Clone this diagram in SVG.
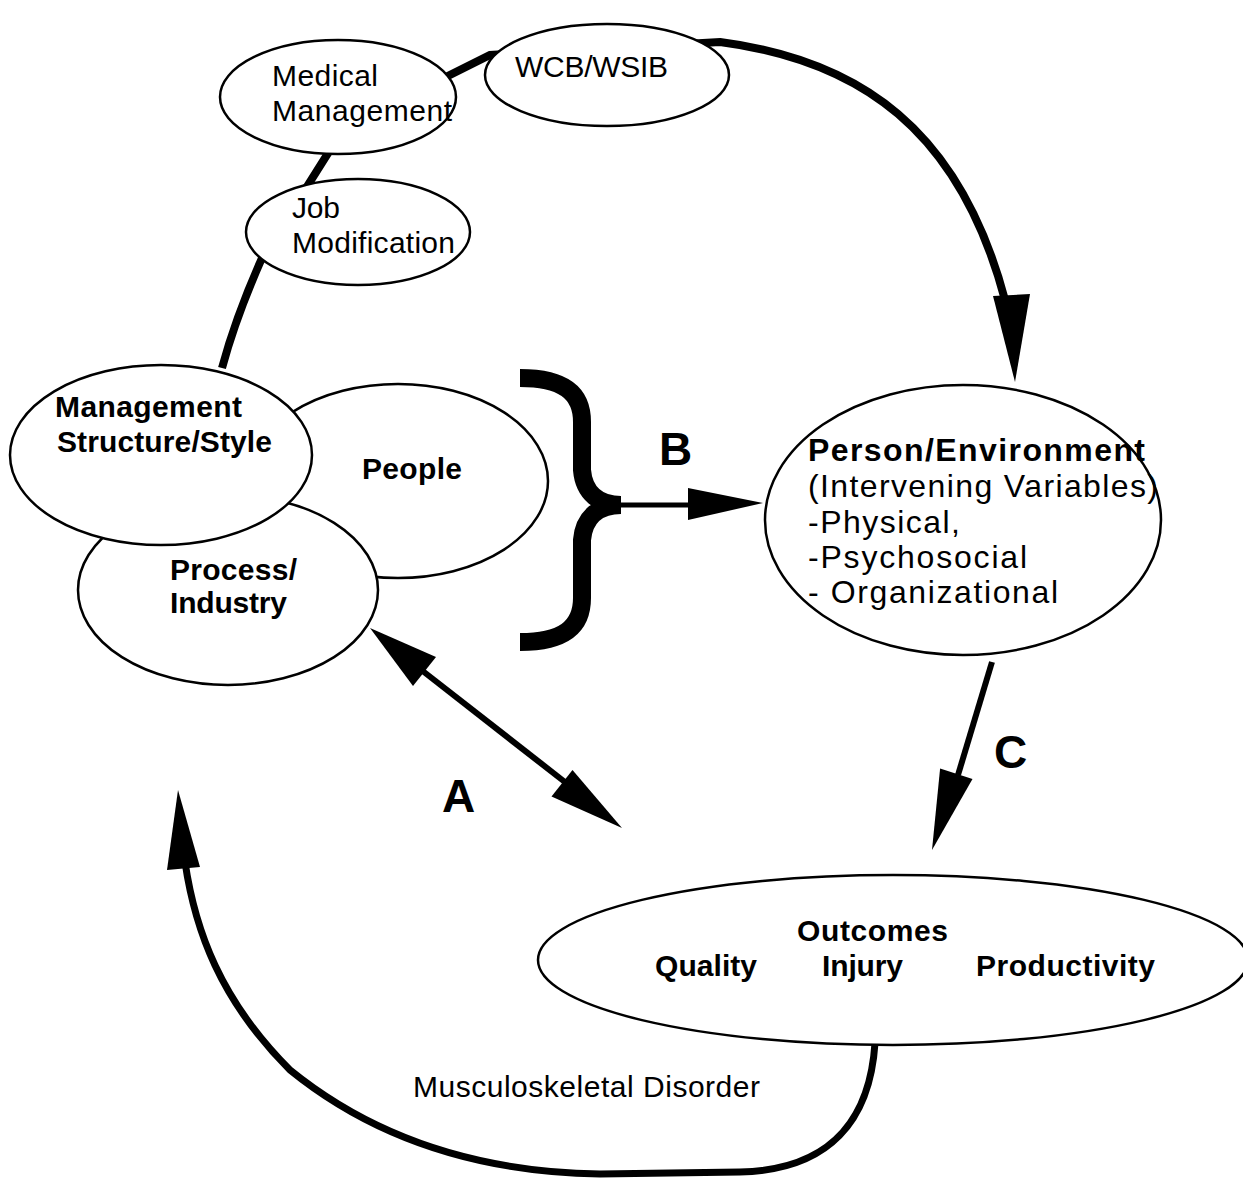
<svg xmlns="http://www.w3.org/2000/svg" width="1243" height="1182" viewBox="0 0 1243 1182">
<style>
.node ellipse{fill:#fff;stroke:#000;stroke-width:2.5}
text{font-family:"Liberation Sans",Arial,sans-serif;fill:#000}
.r{font-size:30px}
.b{font-size:30px;font-weight:bold}
.r2{font-size:32px}
.b2{font-size:32px;font-weight:bold}
.big{font-size:46px;font-weight:bold}
.ln{fill:none;stroke:#000;stroke-linecap:butt}
</style>
<rect width="1243" height="1182" fill="#fff"/>
<g id="connectors">
<path class="ln" stroke-width="8" d="M 222 368 C 235 320 250 285 262 258 L 330 150 L 400 100 L 490 55 L 720 42 C 860 60 960 130 1005 300"/>
<polygon points="1015,382 993,296 1030,294"/>
<path class="ln" stroke-width="18" d="M 520 378 C 562 378 582 392 582 422 L 582 470 C 584 494 600 505 621 505 C 600 505 584 516 582 540 L 582 598 C 582 628 562 642 520 642"/>
<line class="ln" stroke-width="5" x1="621" y1="505" x2="692" y2="505"/>
<polygon points="763,503 688,488 688,520"/>
<line class="ln" stroke-width="6" x1="415" y1="665" x2="570" y2="786"/>
<polygon points="370,628 413,686 436,657"/>
<polygon points="622,828 572.5,770 551.5,796.5"/>
<line class="ln" stroke-width="6" x1="992" y1="662" x2="958" y2="775"/>
<polygon points="932,850 972.5,779 940.1,768.6"/>
<path class="ln" stroke-width="7" d="M 875 1043 C 870 1120 830 1170 740 1172 L 600 1174 C 470 1172 370 1135 290 1070 C 220 1000 195 930 185 862"/>
<polygon points="178,790 167,870 200,867"/>
</g>
<g id="medical" class="node"><ellipse cx="338" cy="97" rx="118" ry="57"/>
<text class="r" x="272" y="86" textLength="106">Medical</text>
<text class="r" x="272" y="121" textLength="180">Management</text></g>
<g id="wcb" class="node"><ellipse cx="607" cy="75" rx="122" ry="51"/>
<text class="r" x="515" y="77" textLength="153">WCB/WSIB</text></g>
<g id="jobmod" class="node"><ellipse cx="358" cy="232" rx="112" ry="53"/>
<text class="r" x="292" y="218" textLength="48">Job</text>
<text class="r" x="292" y="253" textLength="163">Modification</text></g>
<g id="people" class="node"><ellipse cx="398" cy="481" rx="150" ry="97"/>
<text class="b" x="362" y="479" textLength="100">People</text></g>
<g id="process" class="node"><ellipse cx="228" cy="590" rx="150" ry="95"/>
<text class="b" x="170" y="580" textLength="127">Process/</text>
<text class="b" x="170" y="613" textLength="117">Industry</text></g>
<g id="management" class="node"><ellipse cx="161" cy="455" rx="151" ry="90"/>
<text class="b" x="55" y="417" textLength="187">Management</text>
<text class="b" x="57" y="452" textLength="215">Structure/Style</text></g>
<g id="person" class="node"><ellipse cx="963" cy="520" rx="198" ry="135"/>
<text class="b2" x="808" y="461" textLength="337">Person/Environment</text>
<text class="r2" x="808" y="497" textLength="350">(Intervening Variables)</text>
<text class="r2" x="808" y="533" textLength="152">-Physical,</text>
<text class="r2" x="808" y="568" textLength="219">-Psychosocial</text>
<text class="r2" x="808" y="603" textLength="250">- Organizational</text></g>
<g id="outcomes" class="node"><ellipse cx="893" cy="960" rx="355" ry="85"/>
<text class="b" x="797" y="941" textLength="151">Outcomes</text>
<text class="b" x="655" y="976" textLength="102">Quality</text>
<text class="b" x="822" y="976" textLength="81">Injury</text>
<text class="b" x="976" y="976" textLength="179">Productivity</text></g>
<g id="labels">
<text class="big" x="659" y="465">B</text>
<text class="big" x="994" y="768">C</text>
<text class="big" x="442" y="812">A</text>
<text class="r" x="413" y="1097" textLength="347">Musculoskeletal Disorder</text>
</g>
</svg>
